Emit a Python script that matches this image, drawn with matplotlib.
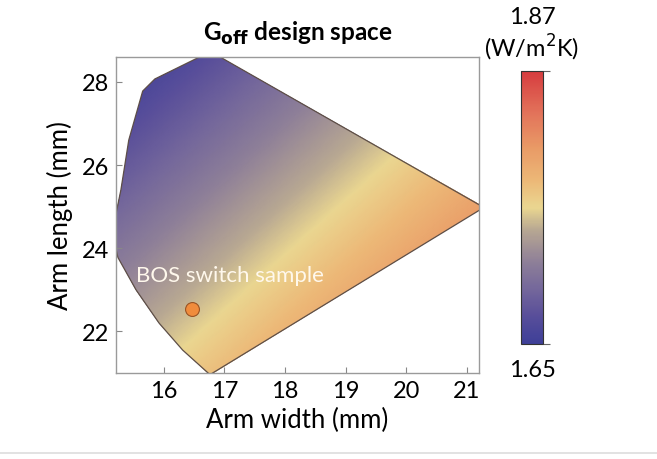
import numpy as np
import matplotlib
matplotlib.use("Agg")
import matplotlib.pyplot as plt
from matplotlib.colors import LinearSegmentedColormap
from matplotlib.patches import Polygon
from matplotlib.lines import Line2D

plt.rcParams['font.family'] = ['Lato', 'DejaVu Sans']

# Design-space boundary (arm width, arm length) in mm
boundary_w = [16.77, 21.28, 16.76, 16.31, 15.92, 15.54, 15.24, 15.15, 15.29, 15.42, 15.65, 15.85]
boundary_l = [28.73, 24.98, 20.96, 21.55, 22.20, 23.00, 23.78, 24.40, 25.40, 26.60, 27.78, 28.07]

# G_off values read at the plot-area corners (W/m^2K)
corner_w = [15.21, 21.20]
corner_l = [21.00, 28.60]
G_corner = [[1.748, 1.858],   # at arm length 21.0
            [1.645, 1.752]]   # at arm length 28.6

G_min, G_max = 1.65, 1.87
sample_w, sample_l = [16.46], [22.55]

cmap_pos = [0.00, 0.10, 0.20, 0.30, 0.42, 0.50, 0.60, 0.72, 0.85, 1.00]
cmap_col = ['#3E3F98', '#584E9A', '#74679B', '#8E7F98', '#B8A892', '#EAD690',
            '#ECB877', '#E99A66', '#E2725A', '#D63C3F']
cmap = LinearSegmentedColormap.from_list('goff', list(zip(cmap_pos, cmap_col)))

fig = plt.figure(figsize=(6.57, 4.60), dpi=100)
ax = fig.add_axes([0.1766, 0.187, 0.5525, 0.687])

# fine grid with bilinear blend of the corner values
gw = np.linspace(corner_w[0], corner_w[1], 300)
gl = np.linspace(corner_l[0], corner_l[1], 300)
tw = (gw - corner_w[0]) / (corner_w[1] - corner_w[0])
tl = (gl - corner_l[0]) / (corner_l[1] - corner_l[0])
TW, TL = np.meshgrid(tw, tl)
Gc = np.array(G_corner)
G = (Gc[0, 0] * (1 - TW) * (1 - TL) + Gc[0, 1] * TW * (1 - TL)
     + Gc[1, 0] * (1 - TW) * TL + Gc[1, 1] * TW * TL)
W, L = np.meshgrid(gw, gl)
mesh = ax.pcolormesh(W, L, G, shading='gouraud', cmap=cmap,
                     vmin=G_min, vmax=G_max, zorder=1, rasterized=True)
poly = Polygon(np.column_stack([boundary_w, boundary_l]), closed=True,
               facecolor='none', edgecolor='#5e4f48', lw=0.9, zorder=2)
ax.add_patch(poly)
mesh.set_clip_path(poly)

ax.plot(sample_w, sample_l, 'o', ms=10, mfc='#F08C3C', mec='#9A5424', mew=0.8, zorder=3)
ax.text(15.54, 23.35, 'BOS switch sample', color='#FFF8EC', fontsize=16,
        va='center', ha='left', zorder=4)

ax.set_xlim(15.21, 21.2)
ax.set_ylim(21.0, 28.6)
ax.set_xticks([16, 17, 18, 19, 20, 21])
ax.set_yticks([22, 24, 26, 28])
ax.tick_params(direction='in', length=4, width=0.8, color='#888888',
               labelsize=17, pad=5)
for s in ax.spines.values():
    s.set_color('#9a9a9a')
    s.set_linewidth(1.0)
ax.set_xlabel('Arm width (mm)', fontsize=18.5, labelpad=4)
ax.set_ylabel('Arm length (mm)', fontsize=18.5, labelpad=6)
ax.set_title(r'G$_{\mathbf{off}}$ design space', fontsize=17.5, fontweight='bold', pad=12)

cax = fig.add_axes([0.793, 0.25, 0.0335, 0.593])
cb = fig.colorbar(mesh, cax=cax)
cb.set_ticks([G_min, G_max])
cb.set_ticklabels(['', ''])
cb.ax.tick_params(length=5, width=0.8, color='#666666', direction='out')
cb.outline.set_edgecolor('#333333')
cb.outline.set_linewidth(0.8)
cax.text(0.5, 1.20, f'{G_max:.2f}', transform=cax.transAxes, ha='center', va='center', fontsize=17)
cax.text(0.5, 1.09, '(W/m$^2$K)', transform=cax.transAxes, ha='center', va='center', fontsize=17)
cax.text(0.5, -0.095, f'{G_min:.2f}', transform=cax.transAxes, ha='center', va='center', fontsize=17)

fig.add_artist(Line2D([0, 1], [0.013, 0.013], transform=fig.transFigure,
                      color='#dddddd', lw=1.2))

fig.savefig('out.png', dpi=100)
